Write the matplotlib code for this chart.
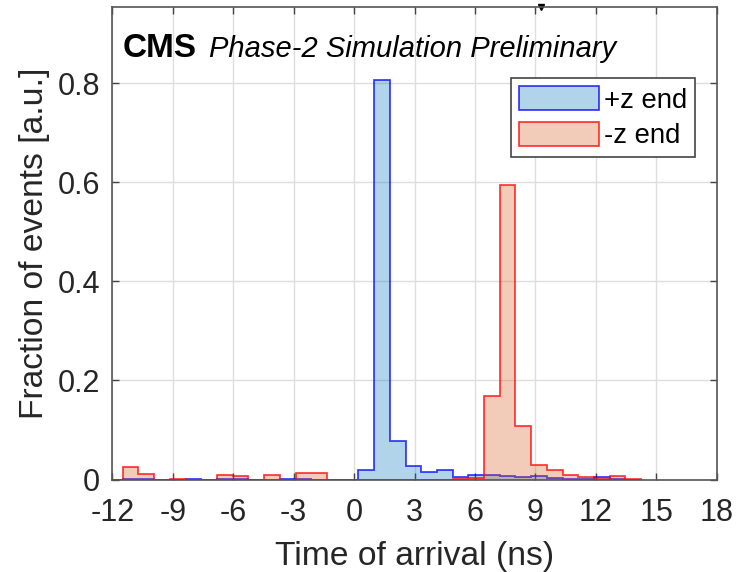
import numpy as np
import matplotlib
matplotlib.use("Agg")
import matplotlib.pyplot as plt
from matplotlib.patches import Patch

plt.rcParams['font.family'] = ['Liberation Sans', 'DejaVu Sans']

# ---- data -------------------------------------------------------------
bin_start, bin_end, n_bins = -12.27, 14.25, 34
bin_edges = np.linspace(bin_start, bin_end, n_bins + 1)

plus_z = [0.0, 0.002, 0.001, 0.0, 0.0, 0.001, 0.0, 0.001, 0.002, 0.0,
          0.0, 0.001, 0.001, 0.0, 0.0, 0.0, 0.019, 0.806, 0.077, 0.028,
          0.015, 0.019, 0.005, 0.009, 0.009, 0.008, 0.005, 0.007, 0.004, 0.002,
          0.001, 0.005, 0.001, 0.0]
minus_z = [0.0, 0.026, 0.012, 0.0, 0.001, 0.0, 0.0, 0.009, 0.007, 0.0,
           0.010, 0.0, 0.014, 0.013, 0.0, 0.0, 0.0, 0.0, 0.0, 0.0,
           0.0, 0.0, 0.001, 0.003, 0.168, 0.594, 0.108, 0.030, 0.020, 0.009,
           0.005, 0.002, 0.008, 0.001]

series_labels = ['+z end', '-z end']
x_ticks = [-12, -9, -6, -3, 0, 3, 6, 9, 12, 15, 18]
y_ticks = [0, 0.2, 0.4, 0.6, 0.8]
y_tick_labels = ['0', '0.2', '0.4', '0.6', '0.8']
top_marker_x = [9.26]

# ---- style ------------------------------------------------------------
blue_face = (0.0, 0.447, 0.741, 0.3)
blue_edge = (0.0, 0.0, 1.0, 0.75)
red_face = (0.85, 0.325, 0.098, 0.3)
red_edge = (1.0, 0.0, 0.0, 0.75)
axis_col = '#262626'

fig = plt.figure(figsize=(7.39, 5.72), dpi=100)
ax = fig.add_axes([0.1522, 0.1617, 0.8176, 0.8255])

ax.stairs(plus_z, bin_edges, fill=True, facecolor=blue_face,
          edgecolor=blue_edge, linewidth=1.3, baseline=0, zorder=3)
ax.stairs(minus_z, bin_edges, fill=True, facecolor=red_face,
          edgecolor=red_edge, linewidth=1.3, baseline=0, zorder=4)

ax.set_xlim(-12, 18)
ax.set_ylim(0, 0.953)
ax.set_xticks(x_ticks)
ax.set_xticklabels([str(t) for t in x_ticks])
ax.set_yticks(y_ticks)
ax.set_yticklabels(y_tick_labels)

ax.grid(True, color='#dedede', linewidth=1.0, zorder=0)
ax.set_axisbelow(True)
for s in ax.spines.values():
    s.set_color('#555555')
    s.set_linewidth(1.2)
    s.set_zorder(6)

ax.tick_params(direction='in', length=5, width=1.0, color='#444444',
               top=True, right=True, labelsize=22, labelcolor=axis_col)
ax.tick_params(axis='x', pad=13)
ax.tick_params(axis='y', pad=9)

ax.set_xlabel('Time of arrival (ns)', fontsize=24.2, color=axis_col, labelpad=10)
ax.set_ylabel('Fraction of events [a.u.]', fontsize=24.2, color=axis_col, labelpad=5.5)

# CMS label
ax.text(0.0175, 0.8947, 'CMS', transform=ax.transAxes, fontsize=24,
        fontweight='bold', va='baseline', ha='left', color='black', zorder=7)
ax.text(0.159, 0.8947, 'Phase-2 Simulation Preliminary', transform=ax.transAxes,
        fontsize=21, style='italic', va='baseline', ha='left', color='black', zorder=7)

# legend
handles = [Patch(facecolor=blue_face, edgecolor=blue_edge, linewidth=1.3),
           Patch(facecolor=red_face, edgecolor=red_edge, linewidth=1.3)]
leg = ax.legend(handles, series_labels, loc='upper right',
                bbox_to_anchor=(0.9645, 0.8496), borderaxespad=0,
                fontsize=19.8, handlelength=2.9, handleheight=0.97,
                handletextpad=0.2, labelspacing=0.3, borderpad=0.28,
                fancybox=False, framealpha=1, edgecolor='#444444')
leg.get_frame().set_linewidth(1.2)
leg.set_zorder(8)

# small marker above top axis
ax.plot(top_marker_x, [1.0], marker='v', markersize=5, color='black',
        transform=ax.get_xaxis_transform(), clip_on=False, linestyle='none')

fig.savefig('out.png', dpi=100)
